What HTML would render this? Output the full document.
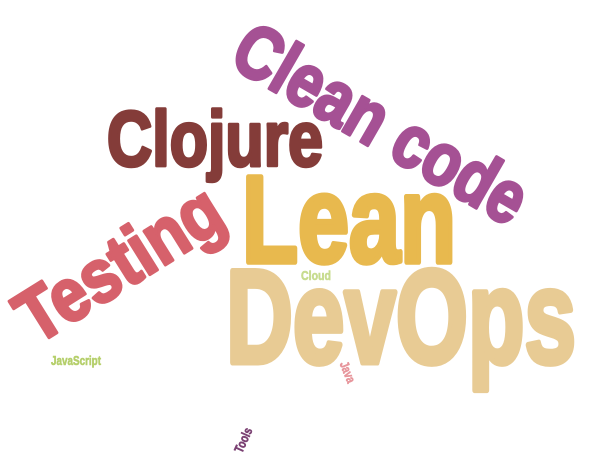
<!DOCTYPE html>
<html><head><meta charset="utf-8"><style>
html,body{margin:0;padding:0;background:#fff;width:591px;height:467px;overflow:hidden}
svg text{font-family:"Liberation Sans",sans-serif;font-weight:bold}
</style></head><body>
<svg id="cloud" width="591" height="467" viewBox="0 0 591 467" xmlns="http://www.w3.org/2000/svg"></svg>
<script>
const words = ["DevOps","Lean","Clojure","Clean code","Testing","Cloud","JavaScript","Java","Tools"];
const weights = [133,123,78,75,75,13,13,13,13];
const colors = ["#e8cb94","#e8b94e","#843c39","#a55194","#d6616b","#c7dc8f","#b5cf6b","#e7969c","#7b4173"];
// layout (center x, center y, rotation, rendered width)
const layout = [
  [401,314,0,350],[349,217,0,214],[215,137,0,216],[382,122,30,326],
  [118,262,-32,228],[316,275,0,30],[76,360,0,50],[348,372,68,22],[243,440,-66,26]
];
const svg = document.getElementById('cloud');
const NS = 'http://www.w3.org/2000/svg';
function fontSize(w){ return w; }
words.forEach((w,i)=>{
  const [cx,cy,rot,wd] = layout[i];
  const fs = fontSize(weights[i]);
  const g = document.createElementNS(NS,'g');
  g.setAttribute('transform',`translate(${cx},${cy}) rotate(${rot})`);
  const t = document.createElementNS(NS,'text');
  
  
  t.setAttribute('x',0);
  t.setAttribute('y',fs*0.73/2);
  t.setAttribute('text-anchor','middle');
  t.setAttribute('font-size',fs);
  t.setAttribute('fill',colors[i]);
  t.setAttribute('stroke',colors[i]);
  t.setAttribute('stroke-width',fs*0.045);
  t.setAttribute('stroke-linejoin','round');
  t.setAttribute('textLength',wd);
  t.setAttribute('lengthAdjust','spacingAndGlyphs');
  t.textContent = w;
  g.appendChild(t);
  svg.appendChild(g);
});
</script>
</body></html>
